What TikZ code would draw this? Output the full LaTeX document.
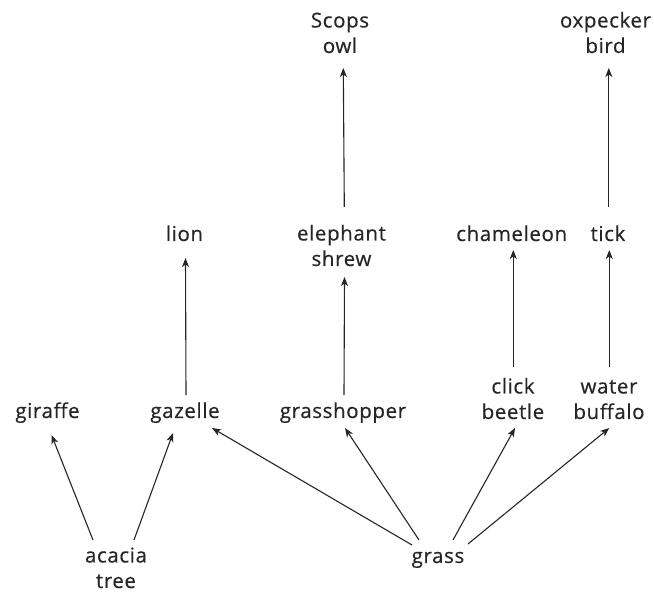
\documentclass[tikz,border=0pt]{standalone}
\usepackage{fontspec}
\setmainfont{Open Sans}[LetterSpace=3, FakeBold=0.4]
\usetikzlibrary{arrows.meta}
\definecolor{ink}{HTML}{262626}
\tikzset{
  organism/.style={anchor=base, align=center, inner sep=0pt, text=ink,
    font=\fontsize{20.5}{25.5}\selectfont},
  eats/.style={draw=ink, line width=1.1pt,
    -{Stealth[length=9pt,width=7pt,inset=2.5pt]}}
}
\begin{document}
\begin{tikzpicture}[x=1pt,y=-1pt]
\useasboundingbox[fill=white] (0,0) rectangle (654,593);

% producers (base = baseline of the last line)
\node[organism] (acacia) at (116,588) {acacia\\tree};
\node[organism] (grass) at (438,563) {grass};

% herbivores
\node[organism] (giraffe) at (47.5,418) {giraffe};
\node[organism] (gazelle) at (185,418) {gazelle};
\node[organism] (grasshopper) at (343,418) {grasshopper};
\node[organism] (beetle) at (513,419) {click\\beetle};
\node[organism] (buffalo) at (609,419) {water\\buffalo};

% second level
\node[organism] (lion) at (184.5,241) {lion};
\node[organism] (shrew) at (341.5,266) {elephant\\shrew};
\node[organism] (chameleon) at (511.7,241) {chameleon};
\node[organism] (tick) at (608,241) {tick};

% top level
\node[organism] (owl) at (340,53) {Scops\\owl};
\node[organism] (oxpecker) at (605.5,53) {oxpecker\\bird};

% energy flow
\draw[eats] ([shift={(-23,-48)}]acacia.base) -- ([shift={(4,17)}]giraffe.base);
\draw[eats] ([shift={(18,-48)}]acacia.base) -- ([shift={(-12,15)}]gazelle.base);
\draw[eats] ([shift={(-26,-18)}]grass.base) -- ([shift={(27,10)}]gazelle.base);
\draw[eats] ([shift={(-19,-23)}]grass.base) -- ([shift={(2,10)}]grasshopper.base);
\draw[eats] ([shift={(15,-23)}]grass.base) -- ([shift={(2,9)}]beetle.base);
\draw[eats] ([shift={(30,-19)}]grass.base) -- ([shift={(0.3,9)}]buffalo.base);
\draw[eats] ([shift={(1,-23)}]gazelle.base) -- ([shift={(1,17)}]lion.base);
\draw[eats] ([shift={(1,-23)}]grasshopper.base) -- ([shift={(3,11)}]shrew.base);
\draw[eats] ([shift={(0.3,-52)}]beetle.base) -- ([shift={(1.6,9)}]chameleon.base);
\draw[eats] ([shift={(0.3,-52)}]buffalo.base) -- ([shift={(1.3,9)}]tick.base);
\draw[eats] ([shift={(2.8,-59)}]shrew.base) -- ([shift={(3.3,15)}]owl.base);
\draw[eats] ([shift={(0.8,-34)}]tick.base) -- ([shift={(3.3,15)}]oxpecker.base);
\end{tikzpicture}
\end{document}
